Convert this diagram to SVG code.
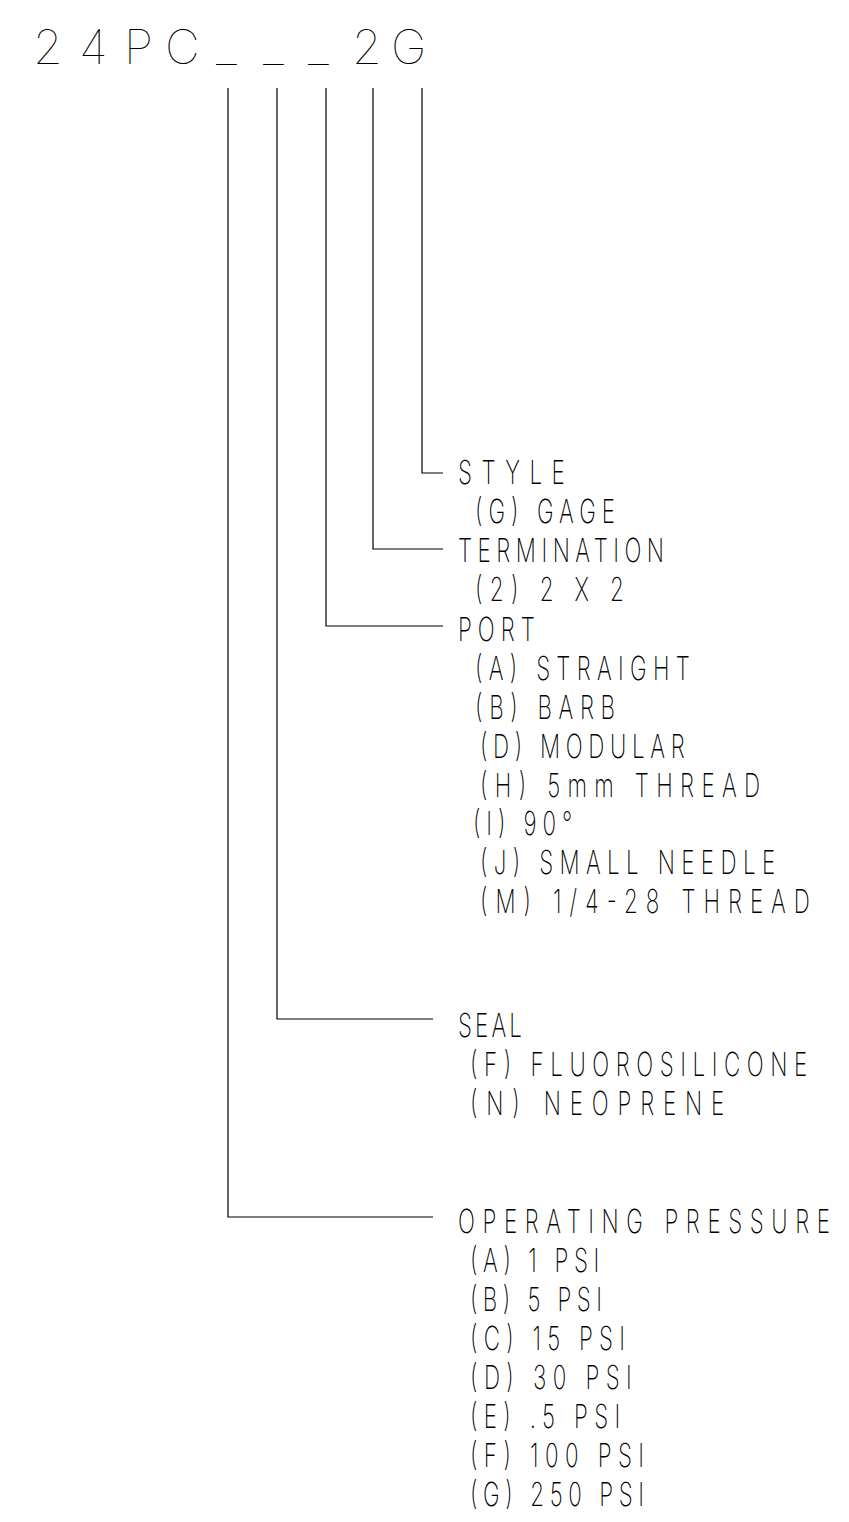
<svg xmlns="http://www.w3.org/2000/svg" width="849" height="1522" viewBox="0 0 849 1522">
<style>
.t{font-family:Inter,"Liberation Sans",Arial,sans-serif;font-weight:200;font-size:33px;fill:#000}
.title{font-family:Inter,"Liberation Sans",Arial,sans-serif;font-weight:100;font-size:48px;fill:#000}
.c{fill:none;stroke:#000;stroke-width:1.2}
</style>
<rect width="849" height="1522" fill="#fff"/>
<g id="title">
<text class="title" x="33 79 124 165 216 263 308 352 391" y="64">24PC___2G</text>
</g>
<g id="connectors">
<polyline class="c" points="422,88 422,473 443,473"/>
<polyline class="c" points="373,88 373,549 443,549"/>
<polyline class="c" points="326,88 326,626 443,626"/>
<polyline class="c" points="277,88 277,1019 433,1019"/>
<polyline class="c" points="228,88 228,1217 433,1217"/>
</g>
<g id="style">
<text class="t" transform="translate(458,484) scale(0.68,1)" textLength="157" lengthAdjust="spacing">STYLE</text>
<text class="t" transform="translate(475,523) scale(0.68,1)" textLength="206" lengthAdjust="spacing">(G) GAGE</text>
</g>
<g id="termination">
<text class="t" transform="translate(458,562) scale(0.68,1)" textLength="303" lengthAdjust="spacing">TERMINATION</text>
<text class="t" transform="translate(475,601) scale(0.68,1)" textLength="219" lengthAdjust="spacing">(2) 2 X 2</text>
</g>
<g id="port">
<text class="t" transform="translate(458,641) scale(0.68,1)" textLength="113" lengthAdjust="spacing">PORT</text>
<text class="t" transform="translate(475,680) scale(0.68,1)" textLength="316" lengthAdjust="spacing">(A) STRAIGHT</text>
<text class="t" transform="translate(475,719) scale(0.68,1)" textLength="206" lengthAdjust="spacing">(B) BARB</text>
<text class="t" transform="translate(480,758) scale(0.68,1)" textLength="301" lengthAdjust="spacing">(D) MODULAR</text>
<text class="t" transform="translate(480,797) scale(0.68,1)" textLength="412" lengthAdjust="spacing">(H) 5mm THREAD</text>
<text class="t" transform="translate(473,835) scale(0.68,1)" textLength="146" lengthAdjust="spacing">(I) 90°</text>
<text class="t" transform="translate(480,874) scale(0.68,1)" textLength="434" lengthAdjust="spacing">(J) SMALL NEEDLE</text>
<text class="t" transform="translate(480,913) scale(0.68,1)" textLength="485" lengthAdjust="spacing">(M) 1/4-28 THREAD</text>
</g>
<g id="seal">
<text class="t" transform="translate(458,1037) scale(0.68,1)" textLength="94" lengthAdjust="spacing">SEAL</text>
<text class="t" transform="translate(470,1076) scale(0.68,1)" textLength="496" lengthAdjust="spacing">(F) FLUOROSILICONE</text>
<text class="t" transform="translate(470,1115) scale(0.68,1)" textLength="374" lengthAdjust="spacing">(N) NEOPRENE</text>
</g>
<g id="operating-pressure">
<text class="t" transform="translate(458,1233) scale(0.68,1)" textLength="547" lengthAdjust="spacing">OPERATING PRESSURE</text>
<text class="t" transform="translate(470,1272) scale(0.68,1)" textLength="190" lengthAdjust="spacing">(A) 1 PSI</text>
<text class="t" transform="translate(470,1311) scale(0.68,1)" textLength="194" lengthAdjust="spacing">(B) 5 PSI</text>
<text class="t" transform="translate(470,1350) scale(0.68,1)" textLength="228" lengthAdjust="spacing">(C) 15 PSI</text>
<text class="t" transform="translate(470,1389) scale(0.68,1)" textLength="238" lengthAdjust="spacing">(D) 30 PSI</text>
<text class="t" transform="translate(470,1428) scale(0.68,1)" textLength="221" lengthAdjust="spacing">(E) .5 PSI</text>
<text class="t" transform="translate(470,1467) scale(0.68,1)" textLength="256" lengthAdjust="spacing">(F) 100 PSI</text>
<text class="t" transform="translate(470,1506) scale(0.68,1)" textLength="256" lengthAdjust="spacing">(G) 250 PSI</text>
</g>
</svg>
